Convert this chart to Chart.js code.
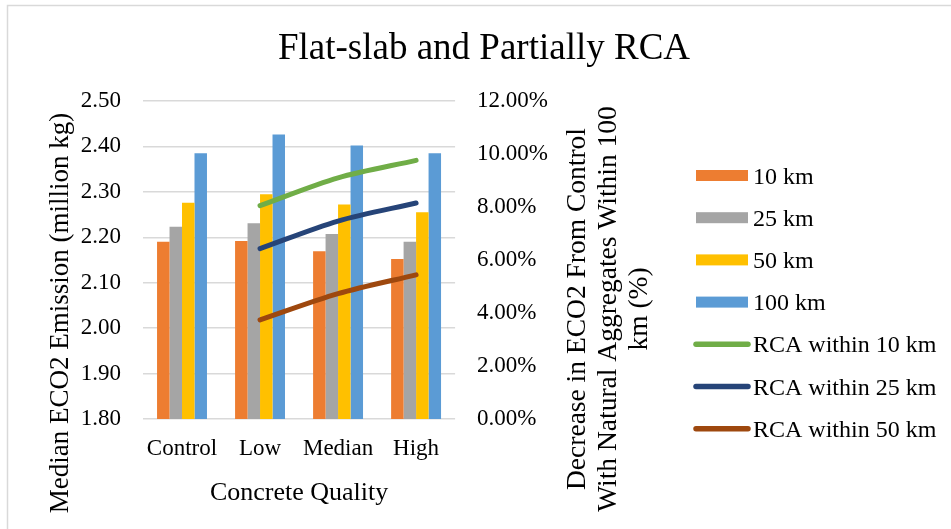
<!DOCTYPE html>
<html>
<head>
<meta charset="utf-8">
<script src="https://cdn.jsdelivr.net/npm/chart.js@4/dist/chart.umd.min.js"></script>
<style>
  html, body { margin: 0; padding: 0; background: #fff; }
  #wrap { position: relative; width: 951px; height: 529px; }
</style>
</head>
<body>
<div id="wrap"><canvas id="c" width="951" height="529"></canvas></div>
<script>
// Concrete quality groups
const categories = ['Control', 'Low', 'Median', 'High'];

// Median ECO2 emission (million kg) by natural-aggregate haul distance
const emission10km  = [2.190, 2.192, 2.169, 2.152];
const emission25km  = [2.223, 2.231, 2.207, 2.190];
const emission50km  = [2.276, 2.295, 2.272, 2.255];
const emission100km = [2.385, 2.426, 2.402, 2.385];

// Decrease in ECO2 from control with natural aggregates within 100 km (%)
const decreaseRca10km = [null, 8.05, 9.10, 9.76];
const decreaseRca25km = [null, 6.43, 7.47, 8.15];
const decreaseRca50km = [null, 3.74, 4.73, 5.44];

// Axis tick values
const emissionTicks = [1.8, 1.9, 2.0, 2.1, 2.2, 2.3, 2.4, 2.5];
const percentTicks  = [0, 2, 4, 6, 8, 10, 12];

const SERIF = "'Liberation Serif', 'Times New Roman', serif";
const INK = '#000000';

const barStyle = (color) => ({
  type: 'bar', yAxisID: 'y', backgroundColor: color, borderWidth: 0,
  categoryPercentage: 0.64, barPercentage: 1.0, order: 2
});
const lineStyle = (color) => ({
  type: 'line', yAxisID: 'y1', borderColor: color, backgroundColor: color,
  borderWidth: 5, pointRadius: 0, pointHoverRadius: 0, tension: 0.3,
  borderCapStyle: 'round', borderJoinStyle: 'round', fill: false, order: 1
});

// Background, frame, title, axis titles and legend
const decor = {
  id: 'decor',
  beforeDraw(chart) {
    const ctx = chart.ctx;
    ctx.save();
    ctx.fillStyle = '#ffffff';
    ctx.fillRect(0, 0, chart.width, chart.height);
    ctx.strokeStyle = '#d9d9d9';
    ctx.lineWidth = 1.5;
    ctx.beginPath();
    ctx.moveTo(7.5, chart.height);
    ctx.lineTo(7.5, 5.5);
    ctx.lineTo(chart.width, 5.5);
    ctx.stroke();
    ctx.restore();
  },
  afterDraw(chart) {
    const ctx = chart.ctx;
    const area = chart.chartArea;
    ctx.save();
    ctx.fillStyle = INK;

    // chart title
    ctx.font = `37px ${SERIF}`;
    ctx.textAlign = 'center';
    ctx.textBaseline = 'alphabetic';
    ctx.fillText('Flat-slab and Partially RCA', 484, 59);

    // x axis title
    ctx.font = `26px ${SERIF}`;
    ctx.fillText('Concrete Quality', (area.left + area.right) / 2, 500);

    // left axis title
    ctx.font = `27px ${SERIF}`;
    ctx.save();
    ctx.translate(68, 313);
    ctx.rotate(-Math.PI / 2);
    ctx.fillText('Median ECO2 Emission (million kg)', 0, 0);
    ctx.restore();

    // right axis title
    ctx.font = `27.5px ${SERIF}`;
    const rightLines = ['Decrease in ECO2 From Control', 'With Natural Aggregates Within 100', 'km (%)'];
    const rightBase = [585, 616, 647];
    rightLines.forEach((t, i) => {
      ctx.save();
      ctx.translate(rightBase[i], 309);
      ctx.rotate(-Math.PI / 2);
      ctx.fillText(t, 0, 0);
      ctx.restore();
    });

    // legend
    ctx.font = `24px ${SERIF}`;
    ctx.textAlign = 'left';
    const rowTop = 175.5, rowGap = 42.2;
    chart.data.datasets.forEach((ds, i) => {
      const cy = rowTop + i * rowGap;
      if (ds.type === 'bar') {
        ctx.fillStyle = ds.backgroundColor;
        ctx.fillRect(696, cy - 5.5, 52, 11);
      } else {
        ctx.strokeStyle = ds.borderColor;
        ctx.lineWidth = 5.5;
        ctx.lineCap = 'round';
        ctx.beginPath();
        ctx.moveTo(696, cy);
        ctx.lineTo(748, cy);
        ctx.stroke();
      }
      ctx.fillStyle = INK;
      ctx.fillText(ds.label, 753, cy + 8);
    });
    ctx.restore();
  }
};

new Chart(document.getElementById('c'), {
  data: {
    labels: categories,
    datasets: [
      { label: '10 km',  data: emission10km,  ...barStyle('#ED7D31') },
      { label: '25 km',  data: emission25km,  ...barStyle('#A5A5A5') },
      { label: '50 km',  data: emission50km,  ...barStyle('#FFC000') },
      { label: '100 km', data: emission100km, ...barStyle('#5B9BD5') },
      { label: 'RCA within 10 km', data: decreaseRca10km, ...lineStyle('#70AD47') },
      { label: 'RCA within 25 km', data: decreaseRca25km, ...lineStyle('#264478') },
      { label: 'RCA within 50 km', data: decreaseRca50km, ...lineStyle('#9E480E') }
    ]
  },
  options: {
    responsive: false,
    animation: false,
    devicePixelRatio: 1,
    layout: { padding: { left: 58.75, right: 381, top: 101, bottom: 50.4 } },
    plugins: {
      legend: { display: false },
      title: { display: false },
      tooltip: { enabled: false }
    },
    scales: {
      x: {
        grid: { display: false, drawTicks: false },
        border: { display: false },
        ticks: { color: INK, font: { family: SERIF, size: 23 }, padding: 16,
                 maxRotation: 0, minRotation: 0, autoSkip: false }
      },
      y: {
        position: 'left',
        min: emissionTicks[0],
        max: emissionTicks[emissionTicks.length - 1],
        afterBuildTicks: (s) => { s.ticks = emissionTicks.map(v => ({ value: v })); },
        grid: { color: '#d9d9d9', lineWidth: 1.5, drawTicks: false },
        border: { display: false },
        ticks: { color: INK, font: { family: SERIF, size: 23 }, padding: 22,
                 callback: (v) => Number(v).toFixed(2) }
      },
      y1: {
        position: 'right',
        min: percentTicks[0],
        max: percentTicks[percentTicks.length - 1],
        afterBuildTicks: (s) => { s.ticks = percentTicks.map(v => ({ value: v })); },
        grid: { drawOnChartArea: false, drawTicks: false },
        border: { display: false },
        ticks: { color: INK, font: { family: SERIF, size: 23 }, padding: 22,
                 callback: (v) => Number(v).toFixed(2) + '%' }
      }
    }
  },
  plugins: [decor]
});
</script>
</body>
</html>
